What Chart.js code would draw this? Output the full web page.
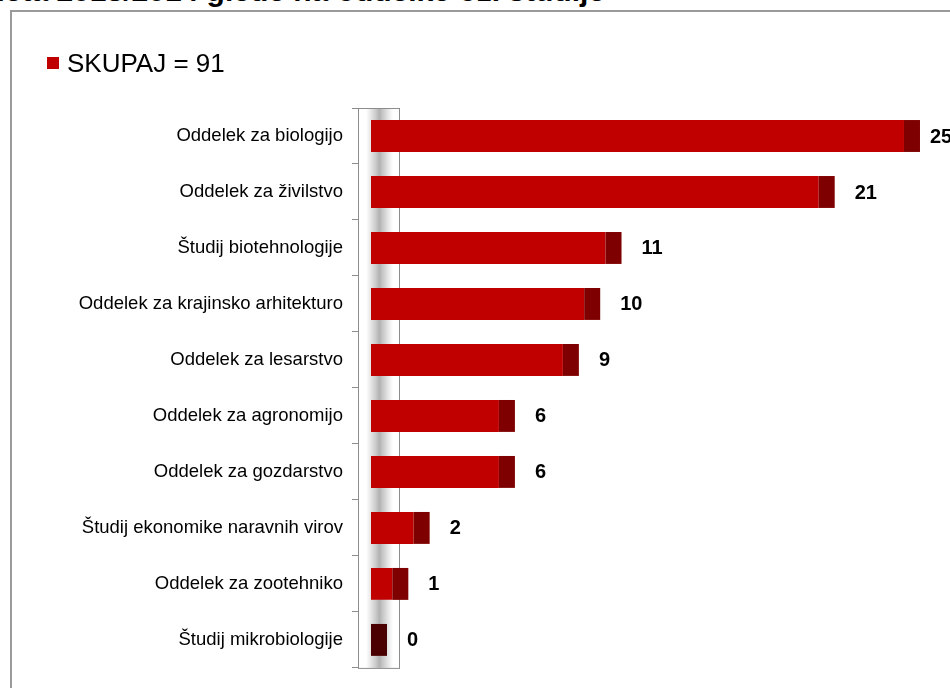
<!DOCTYPE html>
<html>
<head>
<meta charset="utf-8">
<script src="https://cdn.jsdelivr.net/npm/chart.js"></script>
<style>
body{margin:0;width:950px;height:688px;overflow:hidden;background:#fff;position:relative;font-family:"Liberation Sans",Arial,sans-serif;}
#title{position:absolute;right:345px;top:-24px;font-size:30px;font-weight:bold;line-height:30px;white-space:nowrap;color:#000;}
#frame{position:absolute;left:10px;top:10px;width:980px;height:720px;border:2px solid #9a9a9a;box-sizing:border-box;}
#legend{position:absolute;left:47px;top:50px;height:26px;display:flex;align-items:center;font-size:26px;color:#000;}
#legend i{display:inline-block;width:12px;height:12px;background:#c00000;margin-right:8px;}
#myChart{position:absolute;left:0;top:0;}
</style>
</head>
<body>
<div id="title">leta 2013/2014 glede na oddelke oz. študije</div>
<div id="frame"></div>
<canvas id="myChart" width="950" height="688"></canvas>
<div id="legend"><i></i><span id="legText"></span></div>
<script>
var categories = ["Oddelek za biologijo", "Oddelek za živilstvo", "Študij biotehnologije",
    "Oddelek za krajinsko arhitekturo", "Oddelek za lesarstvo", "Oddelek za agronomijo",
    "Oddelek za gozdarstvo", "Študij ekonomike naravnih virov", "Oddelek za zootehniko",
    "Študij mikrobiologije"];
var values = [25, 21, 11, 10, 9, 6, 6, 2, 1, 0];
var seriesName = "SKUPAJ";

var total = values.reduce(function (a, b) { return a + b; }, 0);
document.getElementById("legText").textContent = seriesName + " = " + total;

// grey axis wall, dark end caps and value labels
var wallAndCaps = {
    id: "wallAndCaps",
    beforeDatasetsDraw: function (chart) {
        var ctx = chart.ctx, a = chart.chartArea;
        var x0 = chart.scales.x.getPixelForValue(0);
        ctx.save();
        var g = ctx.createLinearGradient(x0 - 5, 0, x0 + 22, 0);
        g.addColorStop(0, "rgba(190,190,190,0)");
        g.addColorStop(0.5, "rgba(178,178,178,1)");
        g.addColorStop(1, "rgba(190,190,190,0)");
        ctx.fillStyle = g;
        ctx.fillRect(x0 - 5, a.top, 27, a.bottom - a.top);
        ctx.strokeStyle = "#8c8c8c";
        ctx.lineWidth = 1;
        ctx.strokeRect(a.left + 0.5, a.top + 0.5, x0 + 28 - a.left, a.bottom - a.top);
        ctx.restore();
    },
    afterDatasetsDraw: function (chart) {
        var ctx = chart.ctx;
        var meta = chart.getDatasetMeta(0);
        ctx.save();
        ctx.font = "bold 20px 'Liberation Sans', Arial, sans-serif";
        ctx.textBaseline = "middle";
        ctx.textAlign = "left";
        meta.data.forEach(function (bar, i) {
            var p = bar.getProps(["x", "y", "height"], true);
            var top = p.y - p.height / 2;
            ctx.fillStyle = values[i] === 0 ? "#4a0000" : "#7f0000";
            ctx.fillRect(p.x, top, 16, p.height);
            ctx.fillStyle = "#000";
            var lx = Math.min(p.x + 16 + 20, chart.width - 20);
            ctx.fillText(values[i], lx, p.y + 1);
        });
        ctx.restore();
    }
};

new Chart("myChart", {
    type: "bar",
    data: {
        labels: categories,
        datasets: [{
            label: seriesName,
            data: values,
            backgroundColor: "#c00000",
            barPercentage: 0.57,
            categoryPercentage: 1
        }]
    },
    options: {
        indexAxis: "y",
        responsive: false,
        animation: false,
        layout: {padding: {left: 0, top: 108, right: 24.7, bottom: 17}},
        plugins: {legend: {display: false}, tooltip: {enabled: false}},
        scales: {
            x: {display: false, min: -0.61, max: 26},
            y: {
                afterFit: function (scale) { scale.width = 358; },
                grid: {drawOnChartArea: false, tickLength: 6, color: "#8c8c8c"},
                border: {color: "#8c8c8c"},
                ticks: {
                    padding: 9,
                    color: "#000",
                    font: {family: "'Liberation Sans', Arial, sans-serif", size: 18.5}
                }
            }
        }
    },
    plugins: [wallAndCaps]
});
</script>
</body>
</html>
